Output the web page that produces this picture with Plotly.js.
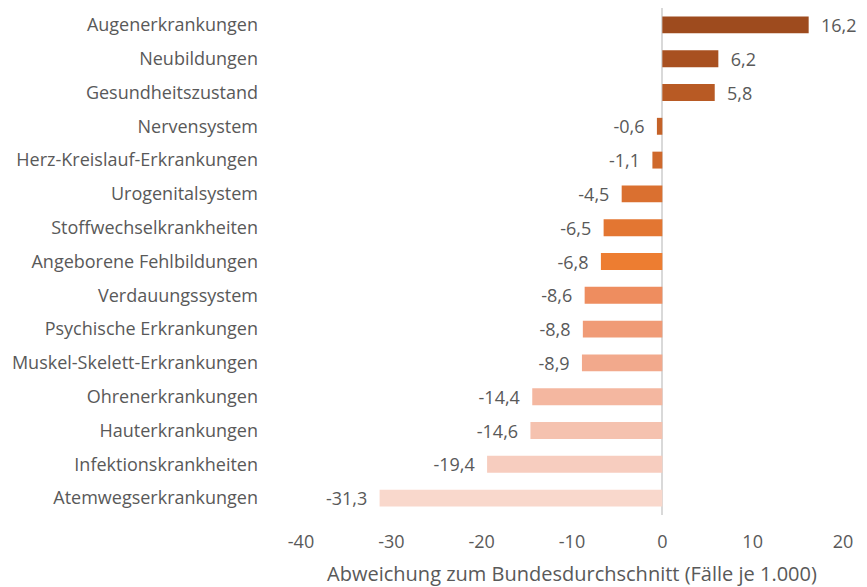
<!DOCTYPE html>
<html>
<head>
<meta charset="utf-8">
<script src="https://cdn.plot.ly/plotly-3.0.1.min.js"></script>
<style>html,body{margin:0;padding:0;background:#fff;}#chart{width:867px;height:587px;}</style>
</head>
<body>
<div id="chart"></div>
<script>
const categories = ["Augenerkrankungen","Neubildungen","Gesundheitszustand","Nervensystem","Herz-Kreislauf-Erkrankungen","Urogenitalsystem","Stoffwechselkrankheiten","Angeborene Fehlbildungen","Verdauungssystem","Psychische Erkrankungen","Muskel-Skelett-Erkrankungen","Ohrenerkrankungen","Hauterkrankungen","Infektionskrankheiten","Atemwegserkrankungen"];
const values = [16.2, 6.2, 5.8, -0.6, -1.1, -4.5, -6.5, -6.8, -8.6, -8.8, -8.9, -14.4, -14.6, -19.4, -31.3];
const barColors = ["#9E4B1E","#A85020","#B85A24","#C46228","#CF692C","#DA7030","#E37632","#ED7D31","#EE8D5F","#F09B76","#F2A98C","#F4B7A0","#F5C2AF","#F7CDBF","#F9D8CC"];
const xTicks = [-40,-30,-20,-10,0,10,20];
const labels = values.map(v => {
  const s = v.toFixed(1).replace('.', ',');
  return v >= 0 ? '\u00a0\u00a0' + s : s + '\u00a0\u00a0';
});

const FONT = '"Open Sans", Lato, sans-serif';

const trace = {
  type: 'bar',
  orientation: 'h',
  x: values,
  y: categories,
  marker: {color: barColors},
  width: 0.5,
  text: labels,
  textposition: 'outside',
  constraintext: 'none',
  cliponaxis: false,
  textfont: {family: FONT, size: 18, color: '#595959'},
  hoverinfo: 'none'
};

const layout = {
  width: 867, height: 587,
  margin: {l: 301, r: 24, t: 8, b: 72},
  paper_bgcolor: '#fff', plot_bgcolor: '#fff',
  showlegend: false,
  font: {family: FONT, color: '#595959', size: 18},
  xaxis: {
    range: [-40, 20],
    tickvals: xTicks,
    ticktext: xTicks.map(String),
    showgrid: false,
    zeroline: true, zerolinecolor: '#D9D9D9', zerolinewidth: 2,
    showline: false,
    ticks: '',
    ticklabelstandoff: 14,
    tickfont: {family: FONT, size: 18, color: '#595959'},
    title: {text: 'Abweichung zum Bundesdurchschnitt (Fälle je 1.000)', font: {family: FONT, size: 20, color: '#595959'}, standoff: 15}
  },
  yaxis: {
    autorange: 'reversed',
    showgrid: false, zeroline: false, showline: false,
    ticks: '',
    ticklabelstandoff: 42,
    tickfont: {family: FONT, size: 18, color: '#595959'}
  }
};

Plotly.newPlot('chart', [trace], layout, {displayModeBar: false, staticPlot: true});
</script>
</body>
</html>
